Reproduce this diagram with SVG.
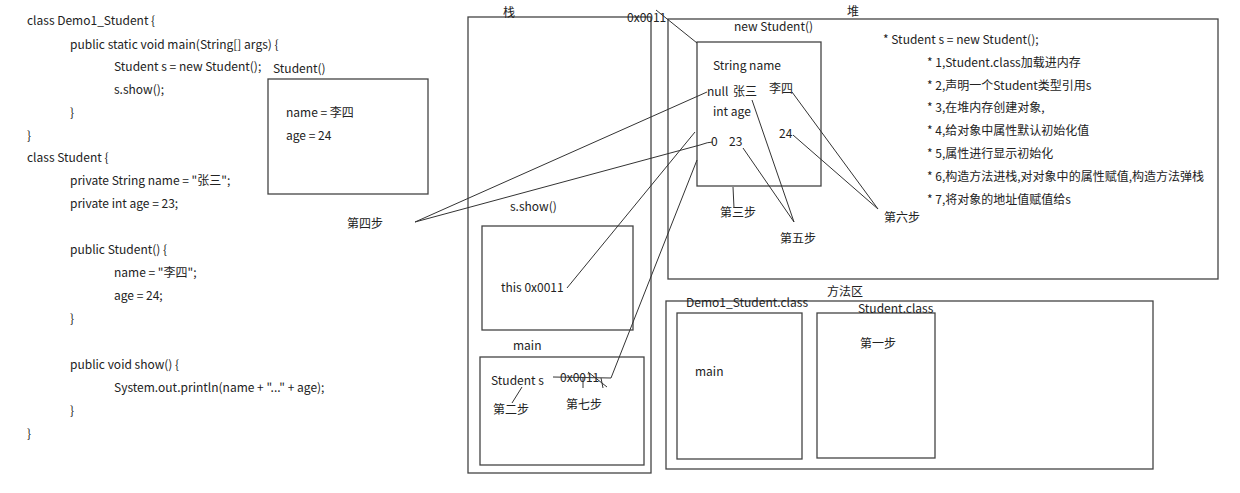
<svg xmlns="http://www.w3.org/2000/svg" width="1240" height="493" viewBox="0 0 1240 493">
<style>
text{font-family:"Noto Sans CJK SC","Microsoft YaHei","Noto Sans",sans-serif;font-size:12px;fill:#222}
.box{fill:none;stroke:#444;stroke-width:1.3}
.ln{fill:none;stroke:#333;stroke-width:1}
</style>
<rect width="1240" height="493" fill="#fff"/>
<g id="code">
<text x="27" y="25">class Demo1_Student {</text>
<text x="70" y="49">public static void main(String[] args) {</text>
<text x="114" y="71">Student s = new Student();</text>
<text x="114" y="94">s.show();</text>
<text x="70" y="117">}</text>
<text x="27" y="140">}</text>
<text x="27" y="162">class Student {</text>
<text x="70" y="185">private String name = "张三";</text>
<text x="70" y="208">private int age = 23;</text>
<text x="70" y="254">public Student() {</text>
<text x="114" y="277">name = "李四";</text>
<text x="114" y="300">age = 24;</text>
<text x="70" y="323">}</text>
<text x="70" y="369">public void show() {</text>
<text x="114" y="392">System.out.println(name + "..." + age);</text>
<text x="70" y="415">}</text>
<text x="27" y="438">}</text>
</g>
<g id="ctor-frame">
<rect x="268" y="79" width="160" height="115" fill="#fff" class="box"/>
<text x="273" y="73">Student()</text>
<text x="286" y="117">name = 李四</text>
<text x="286" y="140">age = 24</text>
</g>
<g id="stack">
<rect class="box" x="468" y="17" width="183" height="456"/>
<text x="503" y="17">栈</text>
</g>
<g id="show-frame">
<text x="510" y="211">s.show()</text>
<rect class="box" x="482" y="226" width="151" height="104"/>
<text x="501" y="292">this 0x0011</text>
</g>
<g id="main-frame">
<text x="513" y="350">main</text>
<rect class="box" x="480" y="357" width="164" height="108"/>
<text x="491" y="385">Student s</text>
<text x="560" y="382">0x0011</text>
<text x="493" y="414">第二步</text>
<text x="566" y="409">第七步</text>
</g>
<g id="heap">
<rect class="box" x="668" y="19" width="550" height="260"/>
<text x="847" y="16">堆</text>
<text x="627" y="22">0x0011</text>
</g>
<g id="object">
<text x="734" y="31">new Student()</text>
<rect class="box" x="697" y="42" width="124" height="144"/>
<text x="713" y="70">String name</text>
<text x="707" y="96">null</text>
<text x="733" y="96">张三</text>
<text x="769" y="93">李四</text>
<text x="713" y="116">int age</text>
<text x="711" y="146">0</text>
<text x="729" y="146">23</text>
<text x="779" y="138">24</text>
<text x="720" y="217">第三步</text>
<text x="780" y="243">第五步</text>
<text x="884" y="222">第六步</text>
</g>
<g id="notes">
<text x="883" y="44">* Student s = new Student();</text>
<text x="927" y="67">* 1,Student.class加载进内存</text>
<text x="927" y="90">* 2,声明一个Student类型引用s</text>
<text x="927" y="112">* 3,在堆内存创建对象,</text>
<text x="927" y="135">* 4,给对象中属性默认初始化值</text>
<text x="927" y="158">* 5,属性进行显示初始化</text>
<text x="927" y="181">* 6,构造方法进栈,对对象中的属性赋值,构造方法弹栈</text>
<text x="927" y="204">* 7,将对象的地址值赋值给s</text>
</g>
<g id="step4">
<text x="347" y="228">第四步</text>
</g>
<g id="method-area">
<rect class="box" x="666" y="301" width="487" height="168"/>
<text x="827" y="296">方法区</text>
</g>
<g id="demo-class">
<rect class="box" x="677" y="313" width="125" height="146"/>
<text x="686" y="307">Demo1_Student.class</text>
<text x="695" y="376">main</text>
</g>
<g id="student-class">
<rect class="box" x="817" y="313" width="118" height="145"/>
<text x="858" y="313">Student.class</text>
<text x="860" y="348">第一步</text>
</g>
<g id="connectors">
<line class="ln" x1="656" y1="10" x2="697" y2="43"/>
<path class="ln" d="M415,222 L707,92"/>
<path class="ln" d="M415,222 L700,145 Q708,142 713,142"/>
<line class="ln" x1="567" y1="288" x2="695" y2="132"/>
<path class="ln" d="M553,377 L611,378 L697,160"/>
<line class="ln" x1="588" y1="372" x2="607" y2="387"/>
<line class="ln" x1="583" y1="378" x2="583" y2="388"/>
<line class="ln" x1="601" y1="378" x2="603" y2="388"/>
<line class="ln" x1="522" y1="387" x2="512" y2="403"/>
<line class="ln" x1="733" y1="187" x2="734" y2="208"/>
<line class="ln" x1="752" y1="100" x2="794" y2="222"/>
<line class="ln" x1="743" y1="148" x2="794" y2="222"/>
<line class="ln" x1="792" y1="92" x2="878" y2="209"/>
<line class="ln" x1="793" y1="135" x2="878" y2="209"/>
</g>
</svg>
